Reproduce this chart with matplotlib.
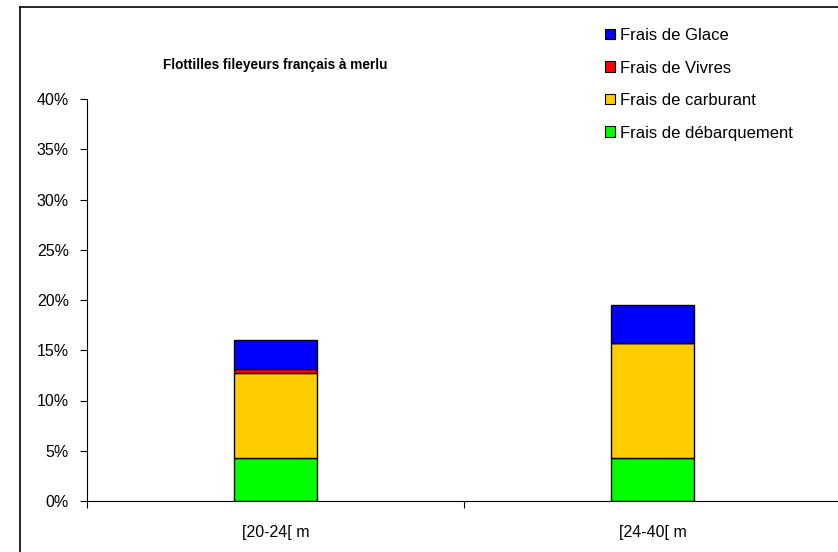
import matplotlib.pyplot as plt
from matplotlib import font_manager
from matplotlib.patches import Patch
from matplotlib.lines import Line2D

plt.rcParams['font.family'] = ['Liberation Sans', 'DejaVu Sans']

categories = ['[20-24[ m', '[24-40[ m']
debarquement = [4.3, 4.3]
carburant = [8.4, 11.45]
vivres = [0.4, 0.0]
glace = [2.9, 3.8]

series = [('Frais de débarquement', debarquement, '#00ff00'),
          ('Frais de carburant', carburant, '#ffcc00'),
          ('Frais de Vivres', vivres, '#ff0000'),
          ('Frais de Glace', glace, '#0000ff')]

fig = plt.figure(figsize=(8.38, 5.52), dpi=100)
ax = fig.add_axes([87/838, 51/552, 754/838, 402/552])

x = [0.5, 1.5]
bottom = [0.0, 0.0]
handles = []
for label, vals, col in series:
    ax.bar(x, vals, width=0.218, bottom=bottom, color=col,
           edgecolor='black', linewidth=1)
    bottom = [b + v for b, v in zip(bottom, vals)]
    handles.append(Patch(facecolor=col, edgecolor='black', linewidth=0.8, label=label))

ax.set_xlim(0, 2)
ax.set_ylim(0, 40)
ax.set_yticks(range(0, 41, 5))
ax.set_yticklabels([f'{v}%' for v in range(0, 41, 5)], fontsize=11.5)
ax.set_xticks([0, 1, 2])
ax.set_xticklabels([])
ax.set_xticks(x, minor=True)
ax.set_xticklabels(categories, minor=True, fontsize=11.5)
ax.tick_params(axis='x', which='minor', length=0, pad=17)
ax.tick_params(axis='x', which='major', length=5, direction='out')
ax.tick_params(axis='y', length=5, direction='out', pad=8)
for s in ['top', 'right']:
    ax.spines[s].set_visible(False)
ax.spines['left'].set_linewidth(0.8)
ax.spines['bottom'].set_linewidth(0.8)

# title: narrow face if there is one, else the normal one a bit smaller
names = {f.name for f in font_manager.fontManager.ttflist}
if 'Liberation Sans Narrow' in names:
    title_font, title_size = 'Liberation Sans Narrow', 12
else:
    title_font, title_size = 'Liberation Sans', 9.8
fig.text(275/838, 1 - 65/552, 'Flottilles fileyeurs français à merlu',
         ha='center', va='center', fontsize=title_size, fontweight='bold',
         family=[title_font, 'DejaVu Sans'])

fig.legend(handles=handles[::-1], loc='upper left',
           bbox_to_anchor=(590/838, 1 - 13/552), frameon=False,
           fontsize=12, handlelength=0.6, handleheight=0.6,
           handletextpad=0.3, labelspacing=1.05)

# outer chart border
fig.add_artist(Line2D([20/838, 20/838], [0, 1 - 7/552], color='black', linewidth=1.2))
fig.add_artist(Line2D([20/838, 1], [1 - 7/552, 1 - 7/552], color='black', linewidth=1.2))

fig.savefig('out.png', dpi=100)
